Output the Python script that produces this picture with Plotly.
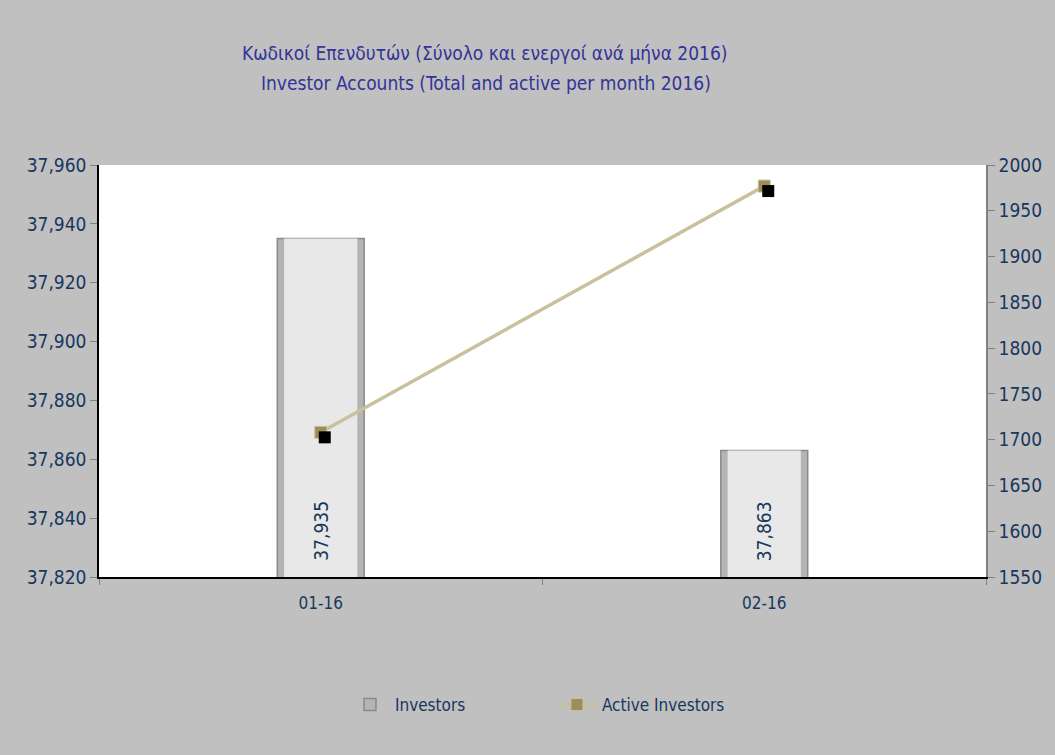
import plotly.graph_objects as go

months = ["01-16", "02-16"]
investors = [37935, 37863]
active_investors = [1708, 1977]
left_ticks = [37820, 37840, 37860, 37880, 37900, 37920, 37940, 37960]
right_ticks = [1550, 1600, 1650, 1700, 1750, 1800, 1850, 1900, 1950, 2000]
title_gr = "Κωδικοί Επενδυτών (Σύνολο και ενεργοί ανά μήνα 2016)"
title_en = "Investor Accounts (Total and active per month 2016)"

FONT = "DejaVu Sans Condensed, Liberation Sans, sans-serif"
TICK_COL = "#17375e"
BG = "#c0c0c0"
Y0 = left_ticks[0]

fig = go.Figure()

# outer (darker bevel edge)
fig.add_trace(go.Bar(
    x=months, y=investors, name="Investors", width=0.196,
    marker=dict(color="#b4b4b4", line=dict(color="#8a8a8a", width=1.5)),
    yaxis="y", xaxis="x", hoverinfo="x+y",
))
# inner face
fig.add_trace(go.Bar(
    x=months, y=investors, name="Investors", width=0.165, showlegend=False,
    marker=dict(color="#e8e8e8", line=dict(width=0)),
    yaxis="y", xaxis="x", hoverinfo="skip",
))

# marker shadow (drawn on shifted hidden axes)
fig.add_trace(go.Scatter(
    x=months, y=active_investors, mode="markers", showlegend=False,
    hoverinfo="skip",
    marker=dict(symbol="square", size=12, color="black"),
    xaxis="x2", yaxis="y2",
))

fig.add_trace(go.Scatter(
    x=months, y=active_investors, name="Active Investors",
    mode="lines+markers",
    line=dict(color="#c9c19c", width=3.5),
    marker=dict(symbol="square", size=12, color="#9a8f5c",
                line=dict(color="#c9c19c", width=1)),
    xaxis="x", yaxis="y3",
))

dx = 4 / 443.5
dy = 5 / 412 * 450

annotations = [
    dict(text=title_gr, xref="paper", yref="paper", x=(485 - 99) / 887,
         y=1.0 + (165 - 53) / 412, xanchor="center", yanchor="middle",
         showarrow=False, font=dict(family=FONT, size=19, color="#333399")),
    dict(text=title_en, xref="paper", yref="paper", x=(486 - 99) / 887,
         y=1.0 + (165 - 83) / 412, xanchor="center", yanchor="middle",
         showarrow=False, font=dict(family=FONT, size=19, color="#333399")),
]
for m, v in zip(months, investors):
    annotations.append(dict(
        text=f"{v:,}", x=m, y=Y0, xref="x", yref="y", showarrow=False,
        textangle=-90, yanchor="bottom", xanchor="center", yshift=14,
        font=dict(family=FONT, size=19, color=TICK_COL),
    ))

fig.update_layout(
    width=1055, height=755,
    paper_bgcolor=BG, plot_bgcolor="white",
    margin=dict(l=99, r=69, t=165, b=178),
    font=dict(family=FONT, color=TICK_COL),
    barmode="overlay",
    showlegend=True,
    legend=dict(orientation="h", x=0.2615 + 14 / 887, xanchor="left",
                y=-(705 - 577) / 412, yanchor="middle",
                font=dict(family=FONT, size=17, color=TICK_COL),
                bgcolor="rgba(0,0,0,0)", itemwidth=40,
                entrywidth=152),
    xaxis=dict(type="category", range=[-0.5, 1.5], showgrid=False,
               showline=True, linecolor="black", linewidth=1.5,
               ticks="outside", tickson="boundaries", tickcolor="#808080",
               ticklen=6, ticklabelstandoff=10,
               tickfont=dict(family=FONT, size=17, color=TICK_COL)),
    xaxis2=dict(type="category", overlaying="x", range=[-0.5 - dx, 1.5 - dx],
                visible=False),
    yaxis=dict(range=[Y0, left_ticks[-1]], tickvals=left_ticks,
               tickformat=",d", showgrid=False, showline=True,
               linecolor="black", linewidth=1.5, ticks="outside",
               tickcolor="#808080", ticklen=7, zeroline=False,
               tickfont=dict(family=FONT, size=19, color=TICK_COL)),
    yaxis2=dict(overlaying="y", range=[1550 + dy, 2000 + dy], visible=False),
    yaxis3=dict(overlaying="y", side="right", range=[right_ticks[0], right_ticks[-1]],
                tickvals=right_ticks, showgrid=False, showline=True,
                linecolor="#808080", linewidth=1.5, ticks="outside",
                tickcolor="#808080", ticklen=7, zeroline=False,
                tickfont=dict(family=FONT, size=19, color=TICK_COL)),
    annotations=annotations,
)

fig.write_html("out.html", config={"displayModeBar": False},
               post_script="document.body.style.margin='0';")
